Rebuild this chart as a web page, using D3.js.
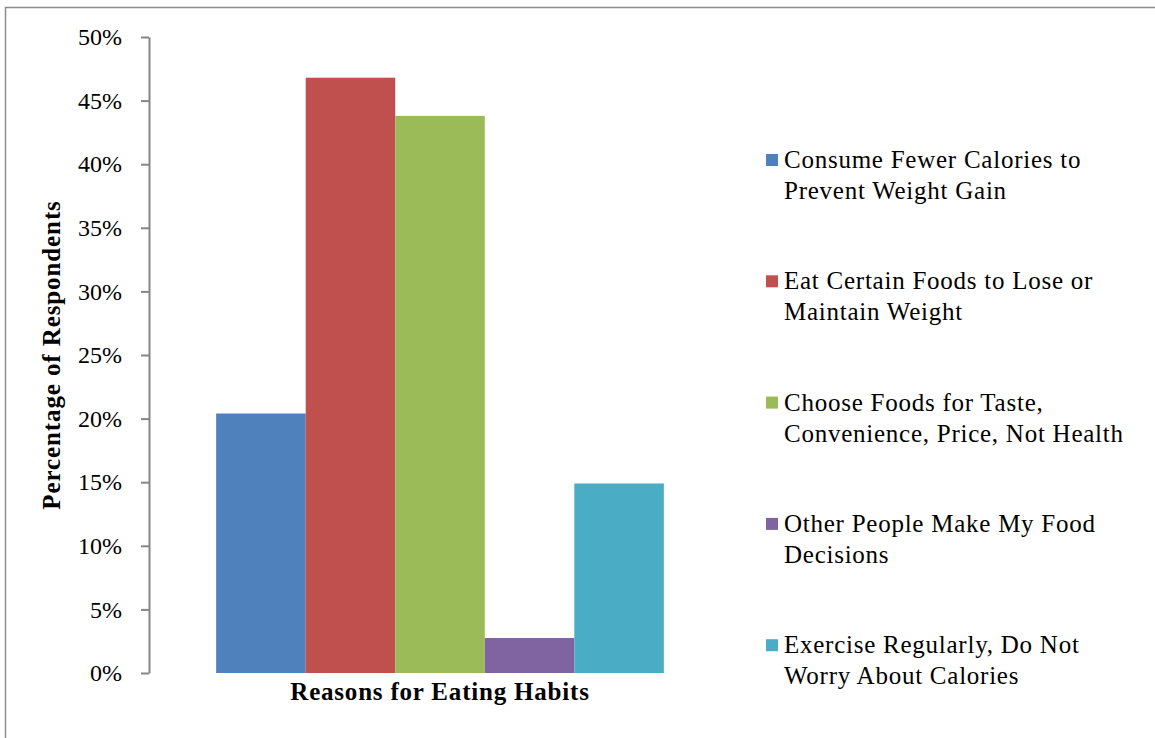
<!DOCTYPE html>
<html>
<head>
<meta charset="utf-8">
<script src="https://cdn.jsdelivr.net/npm/d3@7"></script>
<style>
  html, body { margin: 0; padding: 0; background: #fff; }
  svg { display: block; }
  text { font-family: "Liberation Serif", "Times New Roman", serif; fill: #000; }
</style>
</head>
<body>
<svg id="chart" width="1155" height="738"></svg>
<script>
// Survey results: share of respondents by reason for eating habits
const category = "Reasons for Eating Habits";
const seriesNames = [
  "Consume Fewer Calories to Prevent Weight Gain",
  "Eat Certain Foods to Lose or Maintain Weight",
  "Choose Foods for Taste, Convenience, Price, Not Health",
  "Other People Make My Food Decisions",
  "Exercise Regularly, Do Not Worry About Calories"
];
const legendLines = [
  ["Consume Fewer Calories to", "Prevent Weight Gain"],
  ["Eat Certain Foods to Lose or", "Maintain Weight"],
  ["Choose Foods for Taste,", "Convenience, Price, Not Health"],
  ["Other People Make My Food", "Decisions"],
  ["Exercise Regularly, Do Not", "Worry About Calories"]
];
const values = [0.204, 0.468, 0.438, 0.0275, 0.149];
const colors = ["#4F81BD", "#C0504D", "#9BBB59", "#8064A2", "#4BACC6"];
const yTicks = [0, 0.05, 0.10, 0.15, 0.20, 0.25, 0.30, 0.35, 0.40, 0.45, 0.50];

const svg = d3.select("#chart");

// outer chart frame
svg.append("rect")
  .attr("x", 5.5).attr("y", 7.5)
  .attr("width", 1200).attr("height", 800)
  .attr("fill", "none").attr("stroke", "#8c8c8c").attr("stroke-width", 1.5);

const plot = { left: 149, right: 731, top: 37, bottom: 673 };

const y = d3.scaleLinear().domain([0, 0.5]).range([plot.bottom, plot.top]);

const x0 = d3.scaleBand().domain([category]).range([plot.left, plot.right]);
// gap width 150% of one bar, split on both sides of the cluster
const barW = x0.bandwidth() / (seriesNames.length + 1.5);
const gap = barW * 0.75;
const x1 = d3.scaleBand().domain(seriesNames)
  .range([x0(category) + gap, x0(category) + x0.bandwidth() - gap]);

// bars
svg.append("g").selectAll("rect")
  .data(seriesNames)
  .join("rect")
  .attr("x", d => x1(d))
  .attr("width", x1.bandwidth())
  .attr("y", (d, i) => y(values[i]))
  .attr("height", (d, i) => y(0) - y(values[i]))
  .attr("fill", (d, i) => colors[i]);

// y axis
const yAxis = d3.axisLeft(y)
  .tickValues(yTicks)
  .tickFormat(d => Math.round(d * 100) + "%")
  .tickSize(8)
  .tickSizeOuter(0)
  .tickPadding(19);
const gy = svg.append("g")
  .attr("transform", `translate(${plot.left},0)`)
  .call(yAxis);
gy.select(".domain").attr("stroke", "#868686").attr("stroke-width", 2);
gy.selectAll(".tick line").attr("stroke", "#868686").attr("stroke-width", 2);
gy.selectAll(".tick text")
  .attr("font-family", "Liberation Serif, Times New Roman, serif")
  .attr("font-size", 24)
  .attr("fill", "#000");

// axis titles
svg.append("text")
  .attr("x", x0(category) + x0.bandwidth() / 2)
  .attr("y", 700)
  .attr("text-anchor", "middle")
  .attr("font-size", 25)
  .attr("letter-spacing", 0.8)
  .attr("font-weight", "bold")
  .text(category);

svg.append("text")
  .attr("transform", `translate(60,${(plot.top + plot.bottom) / 2}) rotate(-90)`)
  .attr("text-anchor", "middle")
  .attr("font-size", 25)
  .attr("letter-spacing", 0.9)
  .attr("font-weight", "bold")
  .text("Percentage of Respondents");

// legend
const legend = svg.append("g");
const legendTop = 160, legendStep = 121.3;
const items = legend.selectAll("g")
  .data(seriesNames)
  .join("g")
  .attr("transform", (d, i) => `translate(766,${legendTop + i * legendStep})`);
items.append("rect")
  .attr("x", 0).attr("y", -6)
  .attr("width", 12).attr("height", 12)
  .attr("fill", (d, i) => colors[i]);
items.append("text")
  .attr("x", 18)
  .attr("y", 8)
  .attr("font-size", 25)
  .attr("letter-spacing", 0.75)
  .selectAll("tspan")
  .data((d, i) => legendLines[i])
  .join("tspan")
  .attr("x", 18)
  .attr("dy", (d, j) => j === 0 ? 0 : 31)
  .text(d => d);
</script>
</body>
</html>
